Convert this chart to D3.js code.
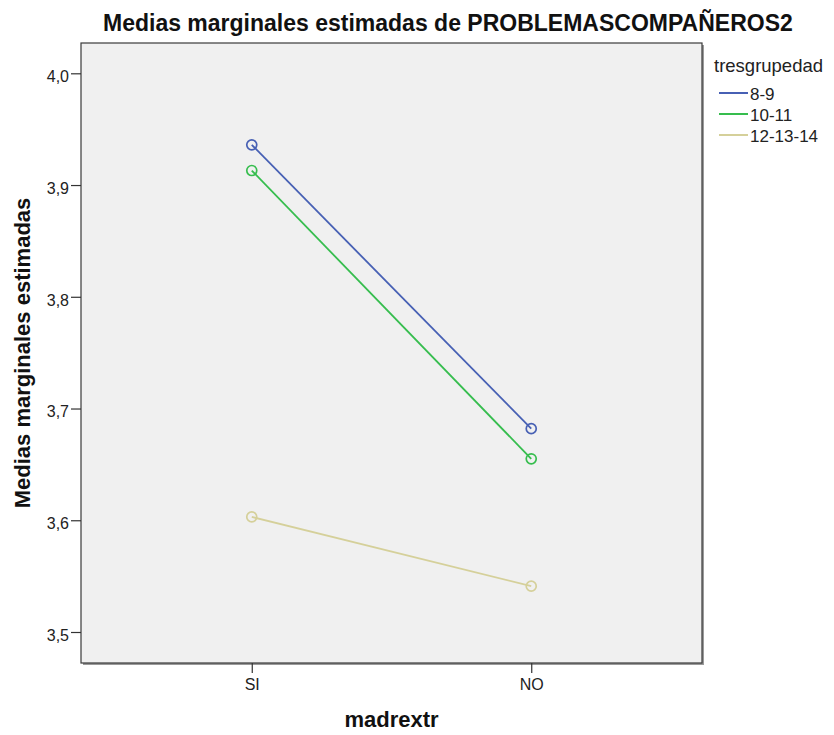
<!DOCTYPE html>
<html><head><meta charset="utf-8">
<script src="https://cdn.jsdelivr.net/npm/d3@7"></script>
<style>body{margin:0;background:#fff;font-family:"Liberation Sans",Arial,sans-serif;}</style>
</head><body><svg id="c" width="834" height="735"></svg>
<script>
const categories = ["SI", "NO"];
const groups = ["8-9", "10-11", "12-13-14"];
const colors = ["#4760b4", "#36bd4e", "#d5d09a"];
const values_8_9 = [3.936, 3.682];
const values_10_11 = [3.913, 3.655];
const values_12_13_14 = [3.603, 3.541];
const yTicks = [3.5, 3.6, 3.7, 3.8, 3.9, 4.0];
const seriesValues = [values_8_9, values_10_11, values_12_13_14];

const svg = d3.select("#c");
const FF = "Liberation Sans, Arial, sans-serif";
const L = 81, R = 702, T = 43, B = 663;
const x = d3.scalePoint().domain(categories).range([L, R]).padding(0.611);
const y = d3.scaleLinear().domain([3.5, 4.0]).range([632, 73.3]);

svg.append("rect").attr("x", L + 2).attr("y", T + 2).attr("width", R - L).attr("height", B - T).attr("fill", "#9a9a9a");
svg.append("rect").attr("x", L).attr("y", T).attr("width", R - L).attr("height", B - T)
  .attr("fill", "#f0f0f0").attr("stroke", "#3a3a3a").attr("stroke-width", 1.2);

const fmt = d => d.toFixed(1).replace(".", ",");
const ya = svg.append("g").attr("transform", `translate(${L},0)`)
  .call(d3.axisLeft(y).tickValues(yTicks).tickFormat(fmt).tickSize(10).tickSizeOuter(0));
ya.select(".domain").remove();
ya.selectAll("line").attr("stroke", "#333").attr("stroke-width", 1.2);
ya.selectAll("text").attr("font-family", FF).attr("font-size", 16).attr("fill", "#222").attr("x", -12).attr("dy", "0.52em");

const xa = svg.append("g").attr("transform", `translate(0,${B})`)
  .call(d3.axisBottom(x).tickSize(10).tickSizeOuter(0));
xa.select(".domain").remove();
xa.selectAll("line").attr("stroke", "#333").attr("stroke-width", 1.2);
xa.selectAll("text").attr("font-family", FF).attr("font-size", 16).attr("fill", "#222").attr("y", 16);

const line = d3.line().x((d, i) => x(categories[i])).y(d => y(d));
seriesValues.forEach((vals, k) => {
  svg.append("path").attr("d", line(vals)).attr("fill", "none").attr("stroke", colors[k]).attr("stroke-width", 1.8);
  svg.selectAll(null).data(vals).enter().append("circle")
    .attr("cx", (d, i) => x(categories[i])).attr("cy", d => y(d)).attr("r", 5)
    .attr("fill", "none").attr("stroke", colors[k]).attr("stroke-width", 1.7);
});

svg.append("text").attr("x", 103).attr("y", 31).attr("text-anchor", "start")
  .attr("font-size", 23).attr("font-weight", "bold").attr("fill", "#111").text("Medias marginales estimadas de PROBLEMASCOMPAÑEROS2");
svg.append("text").attr("transform", `translate(30,${(T + B) / 2}) rotate(-90)`).attr("text-anchor", "middle")
  .attr("font-size", 22).attr("font-weight", "bold").attr("fill", "#111").text("Medias marginales estimadas");
svg.append("text").attr("x", (L + R) / 2).attr("y", 727).attr("text-anchor", "middle")
  .attr("font-size", 22).attr("font-weight", "bold").attr("fill", "#111").text("madrextr");

const lg = svg.append("g");
lg.append("text").attr("x", 714).attr("y", 71.5).attr("font-size", 18.5).attr("fill", "#222").text("tresgrupedad");
groups.forEach((g, i) => {
  const yy = 93 + i * 21;
  lg.append("line").attr("x1", 719).attr("x2", 748).attr("y1", yy).attr("y2", yy).attr("stroke", colors[i]).attr("stroke-width", 2);
  lg.append("text").attr("x", 750).attr("y", yy + 6.5).attr("font-size", 17).attr("fill", "#222").text(g);
});
</script></body></html>
